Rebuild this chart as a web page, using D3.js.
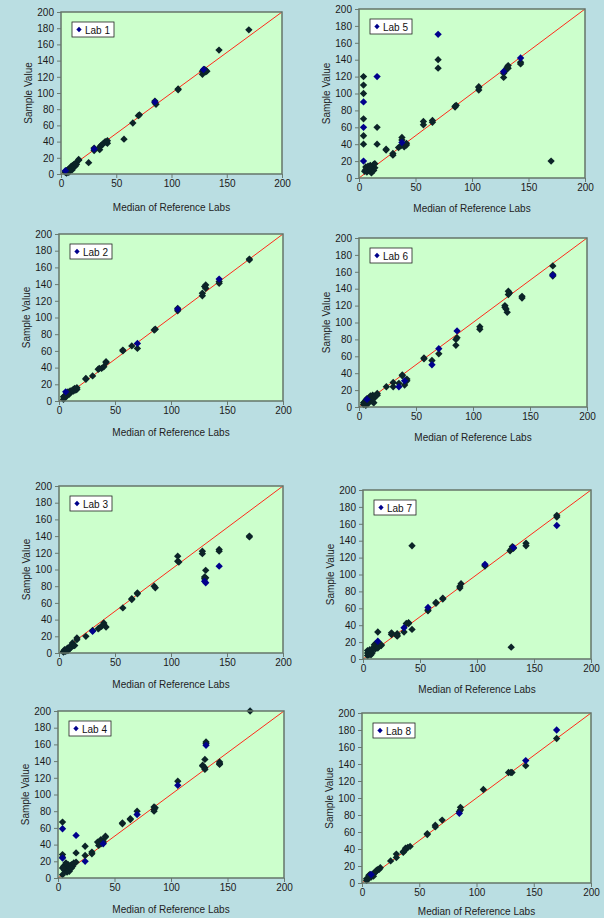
<!DOCTYPE html>
<html>
<head>
<meta charset="utf-8">
<script src="https://cdn.jsdelivr.net/npm/d3@7"></script>
<style>
  html, body { margin: 0; padding: 0; background: #badee2; }
  svg { display: block; font-family: "Liberation Sans", Arial, sans-serif; }
</style>
</head>
<body>
<script>
// values: [median of reference labs, sample value]
var lab1Dark = [[4,2],[4,3],[5,1],[5,4],[6,3],[6,5],[7,2],[7,6],[8,4],[8,7],[9,6],[9,9],[10,5],[10,10],[11,8],[11,11],[12,9],[12,12],[13,10],[13,13],[14,12],[16,17],[16,18],
    [25,14],[30,29],[30,32],[35,30],[35,33],[36,35],[37,36],[38,37],[40,40],[41,39],[42,38],[42,41],[57,43],[65,63],[70,72],[71,73],[85,90],[85,88],[86,86],
    [106,105],[106,104],[128,123],[128,127],[129,128],[130,129],[131,126],[131,128],[132,127],[143,153],[170,178]],
    lab1Blue = [[30,31],[85,89],[129,129],[4,4]];

var lab2Dark = [[4,2],[4,5],[5,4],[5,6],[6,7],[7,8],[7,6],[8,9],[8,11],[9,8],[10,10],[10,12],[11,11],[12,13],[13,14],[13,12],[14,15],[15,13],[16,14],[16,16],
    [24,27],[24,26],[30,30],[35,38],[36,39],[38,39],[40,41],[42,46],[42,47],[57,61],[57,60],[65,66],[70,63],[85,85],[86,86],[106,108],[106,111],
    [128,126],[128,129],[130,137],[131,135],[131,139],[143,143],[143,141],[170,170],[170,169]],
    lab2Blue = [[6,11],[70,69],[143,146],[106,110]];

var lab3Dark = [[4,1],[4,2],[5,3],[5,4],[6,2],[7,5],[7,4],[8,6],[8,3],[9,5],[10,6],[10,8],[11,7],[12,12],[12,10],[13,9],[14,9],[16,18],[16,16],
    [24,20],[30,27],[35,29],[36,30],[38,32],[40,36],[40,34],[42,31],[57,54],[65,65],[65,64],[70,72],[70,71],[85,80],[86,78],[106,116],[106,110],[107,109],
    [128,122],[128,119],[130,91],[130,89],[131,99],[131,90],[143,124],[143,122],[170,139],[170,140]],
    lab3Blue = [[30,26],[130,86],[131,84],[143,104]];

var lab4Dark = [[5,12],[5,14],[6,9],[6,15],[7,11],[7,18],[8,7],[8,14],[9,10],[9,16],[10,8],[10,13],[11,15],[12,12],[12,16],[13,14],[14,17],[14,18],[16,19],
    [4,67],[4,28],[4,25],[4,12],[4,4],[16,30],[24,38],[24,27],[30,31],[30,29],[35,43],[36,39],[38,46],[38,41],[40,44],[40,42],[42,50],[42,49],
    [57,66],[57,65],[64,71],[64,70],[70,80],[85,85],[85,82],[86,84],[85,80],[106,116],[128,135],[128,134],[130,142],[130,132],[130,130],
    [131,163],[131,161],[143,139],[143,137],[143,136],[170,200]],
    lab4Blue = [[4,59],[4,24],[16,51],[24,20],[70,76],[106,111],[131,159],[40,41]];

var lab5Dark = [[5,8],[6,10],[7,7],[7,12],[8,9],[8,14],[9,11],[9,13],[10,8],[10,15],[11,6],[11,12],[12,10],[12,14],[13,9],[13,16],[14,12],[14,17],[6,13],[10,12],
    [4,120],[4,110],[4,100],[4,70],[4,50],[4,40],[16,60],[16,40],[24,33],[24,34],[30,27],[30,29],[35,36],[37,38],[38,48],[38,45],[39,40],[40,37],[42,39],[42,41],
    [57,63],[57,67],[65,66],[65,68],[70,140],[70,130],[85,84],[86,86],[85,85],[106,104],[106,107],[106,108],
    [128,119],[128,124],[129,126],[130,128],[131,131],[132,133],[132,130],[143,137],[143,135],[170,20]],
    lab5Blue = [[4,90],[4,60],[4,20],[16,120],[70,170],[143,142],[38,42],[128,126]];

var lab6Dark = [[4,3],[4,5],[5,4],[5,6],[6,2],[6,8],[7,5],[7,10],[8,4],[8,7],[9,11],[10,9],[10,13],[11,12],[12,14],[12,6],[13,5],[13,10],[14,13],[16,16],[16,14],
    [24,24],[30,29],[30,24],[35,28],[38,38],[38,37],[40,26],[42,33],[42,31],[57,58],[57,57],[64,55],[70,63],[85,73],[85,80],[86,82],[106,95],[106,92],
    [128,120],[128,118],[129,116],[130,112],[131,137],[131,133],[132,135],[143,131],[143,129],[170,167],[170,157],[170,155]],
    lab6Blue = [[35,24],[40,31],[64,50],[70,69],[86,90],[170,156],[7,9]];

var lab7Dark = [[4,4],[4,7],[4,10],[5,5],[5,9],[6,6],[6,11],[7,8],[7,5],[8,7],[8,10],[9,13],[10,17],[10,15],[11,18],[11,12],[12,14],[12,16],[13,13],[14,15],[16,16],[16,17],
    [13,32],[25,31],[25,29],[30,30],[30,28],[30,27],[36,32],[38,42],[40,43],[40,42],[43,134],[43,35],[57,57],[57,58],[64,67],[64,66],[70,72],[70,71],
    [85,84],[85,86],[86,89],[107,111],[107,110],[129,128],[130,130],[131,133],[132,131],[130,14],[143,137],[143,134],[170,170],[170,168]],
    lab7Blue = [[13,21],[36,37],[57,61],[170,158],[132,132],[107,112]];

var lab8Dark = [[4,3],[4,5],[5,4],[6,6],[7,8],[7,10],[8,7],[9,9],[10,8],[10,11],[11,12],[12,14],[12,13],[13,15],[14,16],[15,16],[16,18],[6,9],
    [25,26],[30,34],[30,30],[36,37],[36,36],[38,41],[38,39],[40,42],[42,43],[57,58],[57,57],[64,68],[64,66],[70,74],[85,84],[86,89],[86,86],
    [106,110],[128,130],[130,130],[131,130],[143,138],[170,170]],
    lab8Blue = [[85,82],[143,144],[170,180],[8,10]];

var labNames = ['Lab 1','Lab 2','Lab 3','Lab 4','Lab 5','Lab 6','Lab 7','Lab 8'],
    xTicks = [0, 50, 100, 150, 200],
    yTicks = [0, 20, 40, 60, 80, 100, 120, 140, 160, 180, 200],
    xTitle = 'Median of Reference Labs',
    yTitle = 'Sample Value';

// plot-area boxes (gap = baseline of the x title below the plot)
var boxes = [
    {left: 61, top: 12, width: 221, height: 162, gap: 37},
    {left: 59, top: 234, width: 224, height: 167, gap: 35},
    {left: 59, top: 486, width: 224, height: 167, gap: 35},
    {left: 58, top: 711, width: 226, height: 167, gap: 35},
    {left: 359, top: 9, width: 226, height: 169, gap: 34},
    {left: 359, top: 238, width: 228, height: 169, gap: 34},
    {left: 363, top: 490, width: 228, height: 169, gap: 34},
    {left: 362, top: 713, width: 229, height: 170, gap: 32}
];
var darkSets = [lab1Dark, lab2Dark, lab3Dark, lab4Dark, lab5Dark, lab6Dark, lab7Dark, lab8Dark],
    blueSets = [lab1Blue, lab2Blue, lab3Blue, lab4Blue, lab5Blue, lab6Blue, lab7Blue, lab8Blue];

var svg = d3.select('body').append('svg')
        .attr('width', 604)
        .attr('height', 918),
    diamond = d3.symbol().type(d3.symbolSquare).size(27);

labNames.forEach(function(name, i) {
    var b = boxes[i],
        x = d3.scaleLinear().domain([0, 200]).range([0, b.width]),
        y = d3.scaleLinear().domain([0, 200]).range([b.height, 0]),
        g = svg.append('g').attr('transform', 'translate(' + b.left + ',' + b.top + ')');

    g.append('rect')
        .attr('width', b.width)
        .attr('height', b.height)
        .attr('fill', '#ccffcc');

    var yAxis = g.append('g')
        .call(d3.axisLeft(y).tickValues(yTicks).tickSize(4).tickPadding(3));
    var xAxis = g.append('g')
        .attr('transform', 'translate(0,' + b.height + ')')
        .call(d3.axisBottom(x).tickValues(xTicks).tickSize(4).tickPadding(2));
    [xAxis, yAxis].forEach(function(ax) {
        ax.select('.domain').remove();
        ax.selectAll('line').attr('stroke', '#6a7a70');
        ax.selectAll('text').attr('fill', '#1a1a1a').style('font-size', '10px');
    });

    g.append('text')
        .attr('x', b.width / 2)
        .attr('y', b.height + b.gap)
        .attr('text-anchor', 'middle')
        .attr('fill', '#222')
        .style('font-size', '10px')
        .text(xTitle);

    g.append('text')
        .attr('transform', 'translate(-29,' + (b.height / 2) + ') rotate(-90)')
        .attr('text-anchor', 'middle')
        .attr('fill', '#222')
        .style('font-size', '10px')
        .text(yTitle);

    g.append('line')
        .attr('x1', x(0)).attr('y1', y(0))
        .attr('x2', x(200)).attr('y2', y(200))
        .attr('stroke', '#ff2a1a')
        .attr('stroke-width', 1);

    g.append('g').selectAll('path')
        .data(darkSets[i])
        .enter()
        .append('path')
        .attr('d', diamond)
        .attr('transform', function(d) { return 'translate(' + x(d[0]) + ',' + y(d[1]) + ') rotate(45)'; })
        .attr('fill', '#0c2428');

    g.append('g').selectAll('path')
        .data(blueSets[i])
        .enter()
        .append('path')
        .attr('d', diamond)
        .attr('transform', function(d) { return 'translate(' + x(d[0]) + ',' + y(d[1]) + ') rotate(45)'; })
        .attr('fill', '#00008c');

    g.append('rect')
        .attr('width', b.width)
        .attr('height', b.height)
        .attr('fill', 'none')
        .attr('stroke', '#65756a')
        .attr('stroke-width', 1.5);

    // legend
    var lg = g.append('g').attr('transform', 'translate(11,10)');
    lg.append('rect')
        .attr('width', 42)
        .attr('height', 15)
        .attr('fill', '#fff')
        .attr('stroke', '#222')
        .attr('stroke-width', 0.8);
    lg.append('path')
        .attr('d', d3.symbol().type(d3.symbolSquare).size(14))
        .attr('transform', 'translate(7,7.5) rotate(45)')
        .attr('fill', '#00008c');
    lg.append('text')
        .attr('x', 13)
        .attr('y', 11.5)
        .attr('fill', '#111')
        .style('font-size', '10px')
        .text(name);
});
</script>
</body>
</html>
